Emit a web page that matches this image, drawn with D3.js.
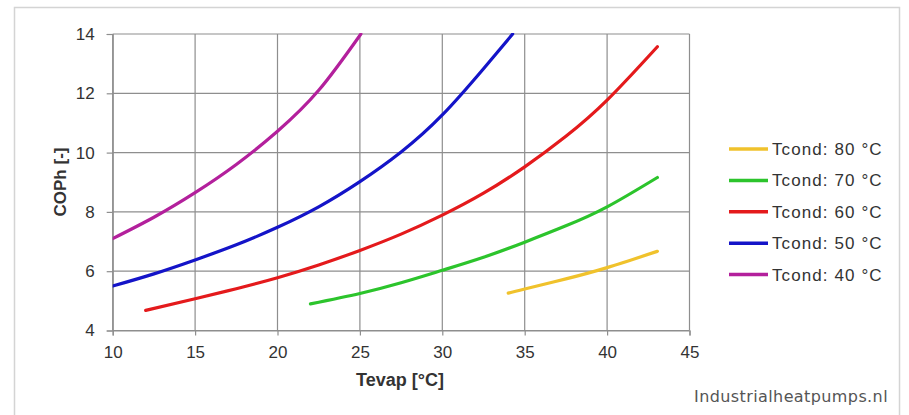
<!DOCTYPE html>
<html>
<head>
<meta charset="utf-8">
<script src="https://cdn.jsdelivr.net/npm/d3@7"></script>
<style>
  html, body { margin: 0; padding: 0; background: #fff; }
  svg { display: block; font-family: "Liberation Sans", Arial, sans-serif; }
</style>
</head>
<body>
<svg id="chart" width="909" height="415"></svg>
<script>
// ---- data ----
const xTicks = [10, 15, 20, 25, 30, 35, 40, 45];
const yTicks = [4, 6, 8, 10, 12, 14];

const seriesNames = ["Tcond: 80 °C", "Tcond: 70 °C", "Tcond: 60 °C", "Tcond: 50 °C", "Tcond: 40 °C"];
const seriesColors = ["#f0c22c", "#2cc42c", "#e41a1c", "#1414c8", "#b3209c"];

const tevap80 = [34, 35, 37.5, 40, 43.05];
const cop80   = [5.26, 5.4, 5.74, 6.12, 6.67];

const tevap70 = [22, 25, 27.5, 30, 32.5, 35, 37.5, 40, 43.05];
const cop70   = [4.9, 5.25, 5.61, 6.03, 6.47, 6.98, 7.53, 8.17, 9.16];

const tevap60 = [12, 15, 17.5, 20, 22.5, 25, 27.5, 30, 32.5, 35, 37.5, 40, 43.05];
const cop60   = [4.68, 5.07, 5.41, 5.78, 6.21, 6.7, 7.25, 7.89, 8.63, 9.52, 10.55, 11.77, 13.57];

const tevap50 = [10, 12.5, 15, 17.5, 20, 22.5, 25, 27.5, 30, 32.5, 34.27];
const cop50   = [5.5, 5.91, 6.38, 6.89, 7.48, 8.17, 9.02, 10.02, 11.27, 12.83, 14.0];

const tevap40 = [10, 12.5, 15, 17.5, 20, 22.5, 25.06];
const cop40   = [7.1, 7.82, 8.65, 9.6, 10.72, 12.1, 14.0];

const seriesX = [tevap80, tevap70, tevap60, tevap50, tevap40];
const seriesY = [cop80, cop70, cop60, cop50, cop40];

// ---- drawing ----
const svg = d3.select("#chart");

// outer frame
svg.append("rect")
  .attr("x", 14.5).attr("y", 7.5)
  .attr("width", 885).attr("height", 430)
  .attr("fill", "#fff").attr("stroke", "#d4d4d4").attr("stroke-width", 1.5);

const x = d3.scaleLinear().domain([10, 45]).range([112.7, 689.5]);
const y = d3.scaleLinear().domain([4, 14]).range([330.5, 34]);

const gridColor = "#8e8e8e";
const textColor = "#333";

// grid
const grid = svg.append("g");
grid.selectAll(".vg").data(xTicks).join("line")
  .attr("x1", d => x(d)).attr("x2", d => x(d))
  .attr("y1", y(14)).attr("y2", y(4))
  .attr("stroke", gridColor).attr("stroke-width", 1.2);
grid.selectAll(".hg").data(yTicks).join("line")
  .attr("x1", x(10)).attr("x2", x(45))
  .attr("y1", d => y(d)).attr("y2", d => y(d))
  .attr("stroke", gridColor).attr("stroke-width", 1.2);

// axes
const xAxis = d3.axisBottom(x).tickValues(xTicks).tickSize(5).tickPadding(10).tickFormat(d3.format("d"));
const yAxis = d3.axisLeft(y).tickValues(yTicks).tickSize(6).tickPadding(12).tickFormat(d3.format("d"));

const gx = svg.append("g").attr("transform", `translate(0,${y(4)})`).call(xAxis);
const gy = svg.append("g").attr("transform", `translate(${x(10)},0)`).call(yAxis);
[gx, gy].forEach(g => {
  g.select(".domain").attr("stroke", gridColor).attr("stroke-width", 1.2);
  g.selectAll(".tick line").attr("stroke", gridColor).attr("stroke-width", 1.2);
  g.selectAll(".tick text")
    .attr("fill", textColor)
    .style("font-size", "17px")
    .style("font-family", "'Liberation Sans', Arial, sans-serif");
});

// axis titles
svg.append("text")
  .attr("x", 400).attr("y", 386)
  .attr("text-anchor", "middle")
  .attr("fill", textColor)
  .style("font-size", "18px").style("font-weight", "bold")
  .text("Tevap [°C]");

svg.append("text")
  .attr("transform", `translate(66,182) rotate(-90)`)
  .attr("text-anchor", "middle")
  .attr("fill", textColor)
  .style("font-size", "17px").style("font-weight", "bold")
  .text("COPh [-]");

// clip to plot area
svg.append("clipPath").attr("id", "plotClip")
  .append("rect")
  .attr("x", x(10)).attr("y", y(14) - 1)
  .attr("width", x(45) - x(10)).attr("height", y(4) - y(14) + 1);

const line = d3.line()
  .x(d => x(d[0])).y(d => y(d[1]))
  .curve(d3.curveNatural);

const plot = svg.append("g").attr("clip-path", "url(#plotClip)");
seriesNames.forEach((name, i) => {
  const pts = seriesX[i].map((v, j) => [v, seriesY[i][j]]);
  plot.append("path")
    .datum(pts)
    .attr("d", line)
    .attr("fill", "none")
    .attr("stroke", seriesColors[i])
    .attr("stroke-width", 3.2)
    .attr("stroke-linecap", "round");
});

// legend
const legend = svg.append("g");
seriesNames.forEach((name, i) => {
  const ly = 149 + i * 31.4;
  legend.append("line")
    .attr("x1", 729).attr("x2", 768)
    .attr("y1", ly).attr("y2", ly)
    .attr("stroke", seriesColors[i]).attr("stroke-width", 3.5);
  legend.append("text")
    .attr("x", 772).attr("y", ly + 6)
    .attr("fill", textColor)
    .style("font-size", "17px")
    .style("letter-spacing", "1.1px")
    .text(name);
});

// watermark
svg.append("text")
  .attr("x", 888).attr("y", 402)
  .attr("text-anchor", "end")
  .attr("fill", "#555")
  .style("font-size", "16px")
  .style("letter-spacing", "0.4px")
  .style("font-family", "'DejaVu Sans', sans-serif")
  .text("Industrialheatpumps.nl");
</script>
</body>
</html>
